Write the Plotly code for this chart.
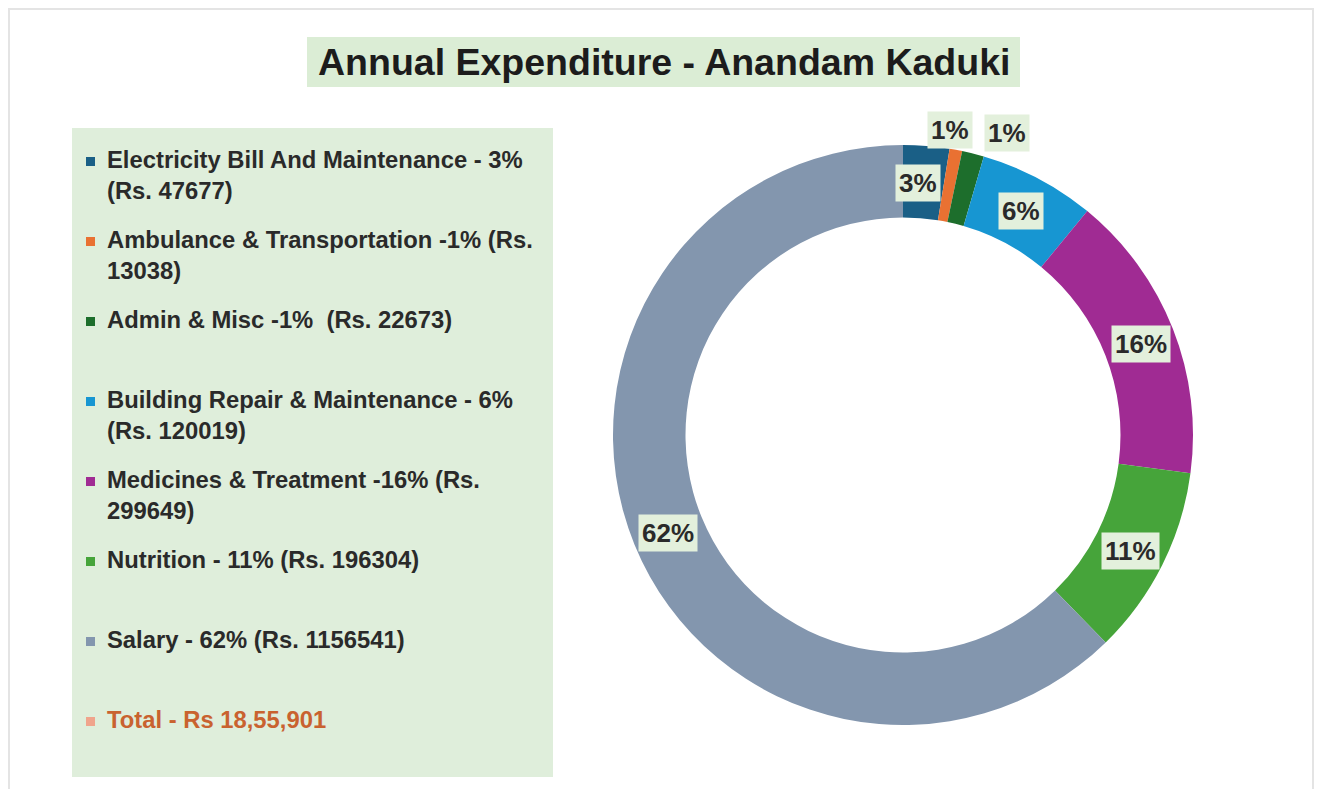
import math
import plotly.graph_objects as go

# ---------------------------------------------------------------------------
# Data
# ---------------------------------------------------------------------------
categories = [
    "Electricity Bill And Maintenance",
    "Ambulance & Transportation",
    "Admin & Misc",
    "Building Repair & Maintenance",
    "Medicines & Treatment",
    "Nutrition",
    "Salary",
]
amounts = [47677, 13038, 22673, 120019, 299649, 196304, 1156541]

legend_labels = [
    "Electricity Bill And Maintenance - 3%<br>(Rs. 47677)",
    "Ambulance & Transportation -1% (Rs.<br>13038)",
    "Admin & Misc -1% \u00a0(Rs. 22673)",
    "Building Repair & Maintenance - 6%<br>(Rs. 120019)",
    "Medicines & Treatment -16% (Rs.<br>299649)",
    "Nutrition - 11% (Rs. 196304)",
    "Salary - 62% (Rs. 1156541)",
]
total_label = "Total - Rs 18,55,901"

colors = ["#1a5f86", "#e97132", "#1d6e2c", "#1796d2", "#a02b93", "#46a43a", "#8396ae"]
total_color = "#f0a48c"
total_text_color = "#c9622f"

# ---------------------------------------------------------------------------
# Layout constants (pixels, figure is 1317 x 789)
# ---------------------------------------------------------------------------
W, H = 1317, 789
CX, CY, R = 903, 435, 290          # donut centre / outer radius
HOLE = 0.75
FONT = "Liberation Sans, Arial, sans-serif"

# label placement: radius factor and small angle nudge (deg) per slice
label_radius = [0.87, 1.065, 1.10, 0.875, 0.88, 0.88, 0.88]
label_nudge = [-1.2, -1.8, 5.0, 0.0, 0.5, 0.5, -0.5]


def px(x):
    return x / W


def py(y):
    return 1 - y / H


fig = go.Figure()

fig.add_trace(go.Pie(
    labels=categories,
    values=amounts,
    hole=HOLE,
    sort=False,
    direction="clockwise",
    rotation=0,
    marker=dict(colors=colors, line=dict(width=0)),
    textinfo="none",
    showlegend=False,
    domain=dict(x=[px(CX - R), px(CX + R)], y=[py(CY + R), py(CY - R)]),
    hovertemplate="%{label}<br>Rs. %{value}<br>%{percent}<extra></extra>",
))

shapes = []
annotations = []

# outer frame
shapes.append(dict(type="rect", xref="paper", yref="paper",
                   x0=px(9), x1=px(1313), y0=-0.05, y1=py(9),
                   line=dict(color="#e4e4e4", width=2), fillcolor="rgba(0,0,0,0)"))

# title box + title
shapes.append(dict(type="rect", xref="paper", yref="paper", layer="below",
                   x0=px(307), x1=px(1020), y0=py(87), y1=py(37),
                   line=dict(width=0), fillcolor="#dbedd5"))
annotations.append(dict(
    text="Annual Expenditure - Anandam Kaduki", xref="paper", yref="paper",
    x=px(664), y=py(62), xanchor="center", yanchor="middle", showarrow=False,
    font=dict(family=FONT, size=37.5, color="#1c1c1c", weight=700),
))

# legend box
shapes.append(dict(type="rect", xref="paper", yref="paper", layer="below",
                   x0=px(72), x1=px(553), y0=py(777), y1=py(128),
                   line=dict(width=0), fillcolor="#dfeedb"))

legend_items = list(zip(legend_labels, colors)) + [(total_label, total_color)]
for i, (lab, col) in enumerate(legend_items):
    yc = 161 + 80 * i
    shapes.append(dict(type="rect", xref="paper", yref="paper",
                       x0=px(86), x1=px(95), y0=py(yc + 5), y1=py(yc - 4),
                       line=dict(width=0), fillcolor=col))
    tcol = total_text_color if lab == total_label else "#2a2a2a"
    annotations.append(dict(
        text=lab, xref="paper", yref="paper", x=px(106), y=py(yc - 16),
        xanchor="left", yanchor="top", align="left", showarrow=False, borderpad=0,
        font=dict(family=FONT, size=23.8, color=tcol, weight=700),
    ))

# percentage labels in boxes
total = sum(amounts)
cum = 0
for i, v in enumerate(amounts):
    mid = (cum + v / 2) / total
    cum += v
    ang = math.radians(mid * 360 + label_nudge[i])
    r = R * label_radius[i]
    x = CX + r * math.sin(ang)
    y = CY - r * math.cos(ang)
    annotations.append(dict(
        text=f"{round(v / total * 100)}%", xref="paper", yref="paper",
        x=px(x), y=py(y), xanchor="center", yanchor="middle", showarrow=False,
        bgcolor="#e3f0dc", borderpad=3,
        font=dict(family=FONT, size=26, color="#2a2a2a", weight=700),
    ))

fig.update_layout(
    width=W, height=H,
    margin=dict(l=0, r=0, t=0, b=0),
    paper_bgcolor="white",
    plot_bgcolor="white",
    shapes=shapes,
    annotations=annotations,
)

fig.write_html("out.html", config={"displayModeBar": False},
               post_script="document.body.style.margin='0';")
